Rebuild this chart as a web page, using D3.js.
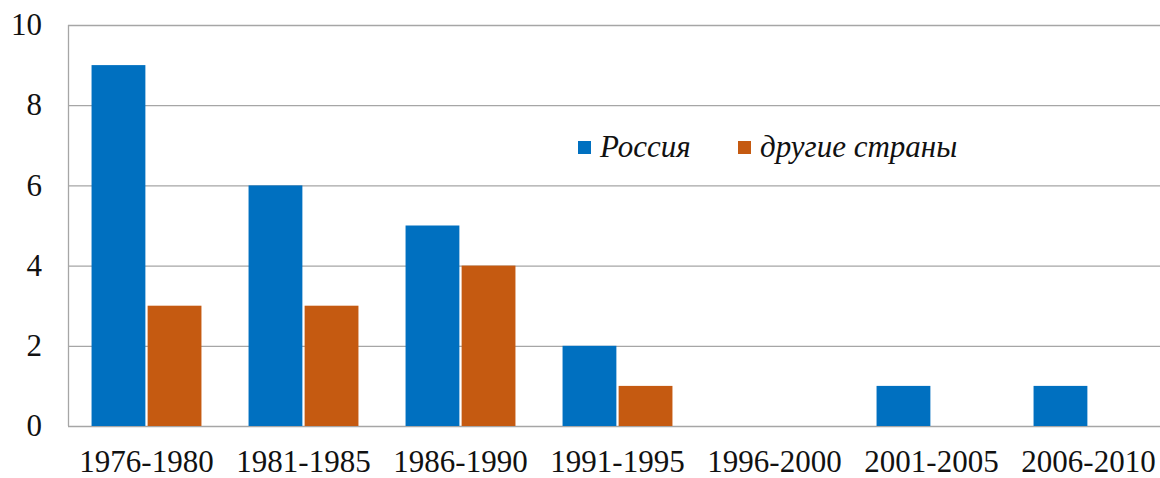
<!DOCTYPE html>
<html><head><meta charset="utf-8">
<script src="https://cdn.jsdelivr.net/npm/d3@7"></script>
<style>body{margin:0;background:#fff}svg{display:block}</style>
</head><body>
<svg id="c" width="1160" height="478"></svg>
<script>
const categories = ["1976-1980","1981-1985","1986-1990","1991-1995","1996-2000","2001-2005","2006-2010"];
const russia = [9,6,5,2,0,1,1];
const others = [3,3,4,1,0,0,0];
const seriesNames = ["Россия","другие страны"];
const colors = ["#0070C0","#C55A11"];
const yTicks = [0,2,4,6,8,10];

(function(){
const FONT = "'Liberation Serif', 'Times New Roman', serif";
const svg = d3.select("#c");
const mLeft = 68, mRight = 1167, mTop = 25, mBottom = 426;
const x = d3.scaleBand().domain(categories).range([mLeft, mRight]).paddingInner(0.3).paddingOuter(0.15);
const y = d3.scaleLinear().domain([0,10]).range([mBottom, mTop]);
const xs = d3.scaleBand().domain([0,1]).range([0, x.bandwidth()]).paddingInner(0.04);

svg.append("g").selectAll("line").data(yTicks).join("line")
  .attr("x1", mLeft).attr("x2", 1160)
  .attr("y1", d => y(d)+0.5).attr("y2", d => y(d)+0.5)
  .attr("stroke", "#a6a6a6").attr("stroke-width", 1.3);
svg.append("line").attr("x1", mLeft+0.5).attr("x2", mLeft+0.5).attr("y1", mTop).attr("y2", mBottom)
  .attr("stroke", "#a6a6a6").attr("stroke-width", 1.3);

const data = [russia, others];
data.forEach((vals, si) => {
  svg.append("g").selectAll("rect").data(vals).join("rect")
    .attr("x", (d,i) => x(categories[i]) + xs(si))
    .attr("width", xs.bandwidth())
    .attr("y", d => y(d))
    .attr("height", d => mBottom - y(d))
    .attr("fill", colors[si]);
});

svg.append("g").selectAll("text").data(yTicks).join("text")
  .attr("x", 42).attr("y", d => y(d)).attr("dy", "0.33em")
  .attr("text-anchor", "end")
  .style("font-family", FONT).style("font-size", "31px").style("fill", "#111").text(d => d);
svg.append("g").selectAll("text").data(categories).join("text")
  .attr("x", d => x(d) + x.bandwidth()/2).attr("y", 472)
  .attr("text-anchor", "middle")
  .style("font-family", FONT).style("font-size", "31px").style("fill", "#111").text(d => d);

const legX = [578, 738];
seriesNames.forEach((n, i) => {
  svg.append("rect").attr("x", legX[i]).attr("y", 141).attr("width", 13).attr("height", 13).attr("fill", colors[i]);
  svg.append("text").attr("x", legX[i] + 22).attr("y", 157)
    .style("font-family", FONT).style("font-size", "31px").style("font-style", "italic").style("fill", "#111").text(n);
});
})();
</script>
</body></html>
